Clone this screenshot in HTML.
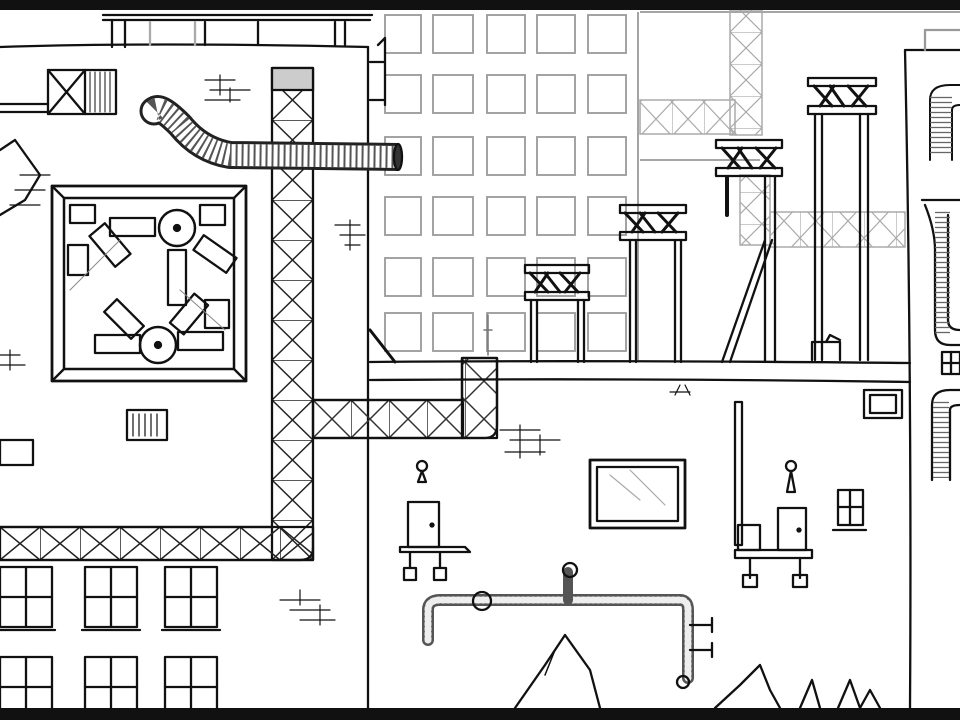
<!DOCTYPE html>
<html><head><meta charset="utf-8"><style>
html,body{margin:0;padding:0;background:#fff;width:960px;height:720px;overflow:hidden}
svg{display:block}
</style></head><body>
<svg width="960" height="720" viewBox="0 0 960 720" xmlns="http://www.w3.org/2000/svg">
<defs>
<pattern id="gv" x="272" y="0" width="41" height="40" patternUnits="userSpaceOnUse">
<path d="M0 0H41M0 0L41 40M41 0L0 40" stroke="#222" stroke-width="1.5" fill="none"/></pattern>
<pattern id="gh" x="0" y="527" width="40" height="33" patternUnits="userSpaceOnUse">
<path d="M0 0V33M0 0L40 33M0 33L40 0" stroke="#222" stroke-width="1.5" fill="none"/></pattern>
<pattern id="gh2" x="313" y="400" width="38" height="38" patternUnits="userSpaceOnUse">
<path d="M0 0V38M0 0L38 38M0 38L38 0" stroke="#333" stroke-width="1.5" fill="none"/></pattern>
<pattern id="ggv" x="730" y="0" width="32" height="32" patternUnits="userSpaceOnUse">
<path d="M0 0H32M0 0L32 32M32 0L0 32" stroke="#aaa" stroke-width="1.2" fill="none"/></pattern>
<pattern id="ggh" x="0" y="0" width="32" height="34" patternUnits="userSpaceOnUse">
<path d="M0 0V34M0 0L32 34M0 34L32 0" stroke="#aaa" stroke-width="1.2" fill="none"/></pattern>
<pattern id="ribh" width="10" height="5" patternUnits="userSpaceOnUse">
<path d="M0 2.5H10" stroke="#666" stroke-width="1.3"/></pattern>
</defs>
<rect width="960" height="720" fill="#fff"/>

<g fill="none" stroke="#999" stroke-width="1.8">
<g id="wrow">
<rect x="385" y="15" width="36" height="38"/><rect x="433" y="15" width="40" height="38"/><rect x="487" y="15" width="38" height="38"/><rect x="537" y="15" width="38" height="38"/><rect x="588" y="15" width="38" height="38"/>
</g>
<use href="#wrow" y="60"/><use href="#wrow" y="122"/><use href="#wrow" y="182"/><use href="#wrow" y="243"/><use href="#wrow" y="298"/>
<path d="M638 12V360M640 12H960M640 160H760"/>
</g>
<rect x="730" y="10" width="32" height="125" fill="url(#ggv)" stroke="#aaa" stroke-width="1.5"/>
<rect x="640" y="100" width="95" height="34" fill="url(#ggh)" stroke="#aaa" stroke-width="1.5"/>
<rect x="740" y="175" width="30" height="70" fill="url(#ggv)" stroke="#aaa" stroke-width="1.5"/>
<rect x="770" y="212" width="135" height="35" fill="url(#ggh)" stroke="#aaa" stroke-width="1.5"/>

<g fill="none" stroke="#111" stroke-width="2.3" stroke-linecap="round" stroke-linejoin="round">
<path d="M0 47 Q150 42 368 47"/>
<path d="M103 15H372M103 20H370"/>
<path d="M112 20V47M125 20V47M205 22V45M258 22V45M335 22V45M345 22V45"/>
<path d="M150 22V45M195 22V45" stroke="#aaa"/>
<path d="M368 47V708"/>
<path d="M378 45L385 38V105M370 62H385M370 100H385"/>
<rect x="48" y="70" width="68" height="44"/>
<path d="M48 70L85 114M85 70L48 114M85 70V114"/>
<path d="M90 72V112M95 72V112M100 72V112M105 72V112M110 72V112" stroke-width="1"/>
<path d="M0 104H48M0 112H48"/>
<path d="M205 80H235M210 90H250M205 100H240M220 75V95M230 88V102" stroke-width="1.2"/>
<path d="M335 225H360M340 235H365M345 245H360M350 220V250" stroke-width="1.2"/>
<path d="M500 430H540M510 440H560M505 452H545M520 425V458M540 435V455" stroke-width="1.2"/>
<path d="M280 600H320M290 610H330M300 620H335M300 590V605M320 605V625" stroke-width="1.2"/>
<path d="M0 355H20M0 365H25M10 350V370" stroke-width="1.2"/>
<path d="M0 150L15 140L40 175L25 200L0 215" />
<path d="M20 175H50M15 190H45M10 205H40" stroke-width="1.2"/>
<rect x="272" y="68" width="41" height="492" fill="url(#gv)"/>
<rect x="272" y="68" width="41" height="22" fill="#ccc"/>
<rect x="0" y="527" width="313" height="33" fill="url(#gh)"/>
<path d="M0 527H272M0 560H300Q313 560 313 548"/>
<rect x="313" y="400" width="150" height="38" fill="url(#gh2)"/>
<rect x="462" y="358" width="35" height="80" fill="url(#gh2)"/>
<path d="M313 438H485Q497 438 497 425V358H462V400H313"/>
<!-- duct -->
<circle cx="154" cy="111" r="13" fill="#fff" stroke="#222" stroke-width="3"/>
<path d="M155 110 Q160 105 180 125 Q200 150 230 155 L398 157" stroke="#222" stroke-width="28" stroke-linecap="butt"/>
<path d="M155 110 Q160 105 180 125 Q200 150 230 155 L398 157" stroke="#fff" stroke-width="22" stroke-linecap="butt"/>
<path d="M155 110 Q160 105 180 125 Q200 150 230 155 L398 157" stroke="#555" stroke-width="22" stroke-dasharray="2 4" stroke-linecap="butt"/>
<ellipse cx="398" cy="157" rx="4" ry="13" fill="#333"/>
<!-- fan box -->
<rect x="52" y="186" width="194" height="195" stroke-width="2.8"/>
<rect x="64" y="198" width="170" height="171" stroke-width="2.5"/>
<path d="M52 186L64 198M246 186L234 198M52 381L64 369M246 381L234 369"/>
<circle cx="177" cy="228" r="18" stroke-width="2.5"/><circle cx="177" cy="228" r="3" fill="#111"/>
<circle cx="158" cy="345" r="18" stroke-width="2.5"/><circle cx="158" cy="345" r="3" fill="#111"/>
<rect x="110" y="218" width="45" height="18"/><rect x="168" y="250" width="18" height="55"/>
<rect x="100" y="225" width="20" height="40" transform="rotate(-40 110 245)"/>
<rect x="195" y="245" width="40" height="18" transform="rotate(35 215 254)"/>
<rect x="95" y="335" width="45" height="18"/><rect x="178" y="332" width="45" height="18"/>
<rect x="115" y="300" width="18" height="38" transform="rotate(-45 124 319)"/>
<rect x="180" y="295" width="18" height="38" transform="rotate(40 189 314)"/>
<rect x="70" y="205" width="25" height="18"/><rect x="200" y="205" width="25" height="20"/>
<rect x="68" y="245" width="20" height="30"/><rect x="205" y="300" width="24" height="28"/>
<path d="M70 290L120 240M180 290L225 330" stroke="#888" stroke-width="1"/>
<rect x="127" y="410" width="40" height="30"/>
<path d="M133 414V436M139 414V436M145 414V436M151 414V436M157 414V436" stroke-width="1.2"/>
<rect x="0" y="440" width="33" height="25"/>
<g id="win"><rect x="85" y="567" width="52" height="60"/><path d="M111 567V627M85 597H137M82 630H140"/></g>
<use href="#win" x="80"/><use href="#win" x="-85"/>
<use href="#win" y="90"/><use href="#win" x="80" y="90"/><use href="#win" x="-85" y="90"/>
<path d="M370 362 Q600 360 910 363M370 380 Q650 378 910 382"/>
<path d="M370 330L395 362" stroke-width="3"/>
<path d="M488 315V355M484 330H492" stroke="#777" stroke-width="1.5"/>
<g>
<rect x="525" y="265" width="64" height="8"/><rect x="525" y="292" width="64" height="8"/>
<path d="M530 273L548 292M545 273L560 292M560 273L578 292M580 273L565 292M548 273L535 292" stroke-width="3"/>
<path d="M531 300V362M537 300V362M578 300V362M584 300V362"/>
<rect x="620" y="205" width="66" height="8"/><rect x="620" y="232" width="66" height="8"/>
<path d="M625 213L643 232M640 213L655 232M658 213L676 232M678 213L662 232M645 213L632 232" stroke-width="3"/>
<path d="M630 240V362M636 240V362M675 240V362M681 240V362"/>
<rect x="716" y="140" width="66" height="8"/><rect x="716" y="168" width="66" height="8"/>
<path d="M722 148L740 168M738 148L752 168M756 148L775 168M776 148L760 168M742 148L728 168" stroke-width="3"/>
<path d="M765 176V362M775 176V362M765 240L722 362M772 240L730 362"/>
<path d="M727 178V215" stroke-width="4"/>
<rect x="808" y="78" width="68" height="8"/><rect x="808" y="106" width="68" height="8"/>
<path d="M814 86L832 106M830 86L844 106M848 86L866 106M868 86L852 106M834 86L820 106" stroke-width="3"/>
<path d="M815 114V360M822 114V360M860 114V360M868 114V360"/>
<path d="M812 360V342L840 342V360M826 342L830 335L840 340"/>
</g>
<path d="M905 50H960M905 50Q912 380 910 708"/>
<path d="M925 30H960M925 30V50" stroke="#999"/>
<path d="M930 160V100Q930 85 950 85H960M952 160V110Q952 105 960 105" stroke-width="2"/>
<rect x="930" y="95" width="22" height="60" fill="url(#ribh)" stroke="none"/>
<path d="M922 200H960M925 205Q935 230 935 250V330Q935 345 950 345H960M948 215V320Q948 330 960 330"/>
<rect x="935" y="210" width="15" height="125" fill="url(#ribh)" stroke="none"/>
<rect x="942" y="352" width="18" height="22"/><path d="M951 352V374M942 363H960"/>
<path d="M932 480V405Q932 390 950 390H960M950 480V410Q950 405 960 405"/>
<rect x="933" y="400" width="16" height="78" fill="url(#ribh)" stroke="none"/>
<rect x="864" y="390" width="38" height="28"/><rect x="870" y="395" width="26" height="18"/>
<path d="M680 385L675 395M685 385L690 395M670 392L690 392" stroke-width="1.2"/>
<rect x="590" y="460" width="95" height="68" stroke-width="2.8"/><rect x="597" y="467" width="81" height="54"/>
<path d="M610 475L640 500M630 470L665 505" stroke="#aaa" stroke-width="1.2"/>
<circle cx="422" cy="466" r="5"/><path d="M422 471L418 482H426Z"/>
<rect x="408" y="502" width="31" height="45"/><circle cx="432" cy="525" r="1.5" fill="#111"/>
<path d="M400 547H465L470 552H400Z"/>
<path d="M410 553V568M440 553V568"/><rect x="404" y="568" width="12" height="12"/><rect x="434" y="568" width="12" height="12"/>
<path d="M735 402H742V545H735Z"/>
<circle cx="791" cy="466" r="5"/><path d="M791 471L787 492H795Z"/>
<rect x="778" y="508" width="28" height="42"/><circle cx="799" cy="530" r="1.5" fill="#111"/>
<rect x="738" y="525" width="22" height="25"/>
<path d="M735 550H812V558H735Z"/>
<path d="M750 558V578M800 558V578"/><rect x="743" y="575" width="14" height="12"/><rect x="793" y="575" width="14" height="12"/>
<rect x="838" y="490" width="25" height="35"/><path d="M850 490V525M838 507H863M833 530H866"/>
<path d="M428 640V610Q428 600 440 600H680Q688 600 688 610V678" stroke="#555" stroke-width="12"/>
<path d="M428 640V610Q428 600 440 600H680Q688 600 688 610V678" stroke="#eee" stroke-width="7" stroke-dasharray="2 3"/>
<circle cx="482" cy="601" r="9"/>
<path d="M568 600V572" stroke="#555" stroke-width="10"/><circle cx="570" cy="570" r="7"/>
<path d="M690 625H712M690 650H712M712 618V632M712 643V657"/>
<circle cx="683" cy="682" r="6"/>
<path d="M515 708L545 665L565 635L590 670L600 708"/>
<path d="M555 650L545 675" stroke-width="1.5"/>
<path d="M715 708L740 685L760 665L770 690L780 708M800 708L812 680L820 708M838 708L850 680L860 708M860 708L870 690L880 708"/>
</g>
<rect x="0" y="0" width="960" height="10" fill="#111"/>
<rect x="0" y="708" width="960" height="12" fill="#111"/>
</svg>
</body></html>
